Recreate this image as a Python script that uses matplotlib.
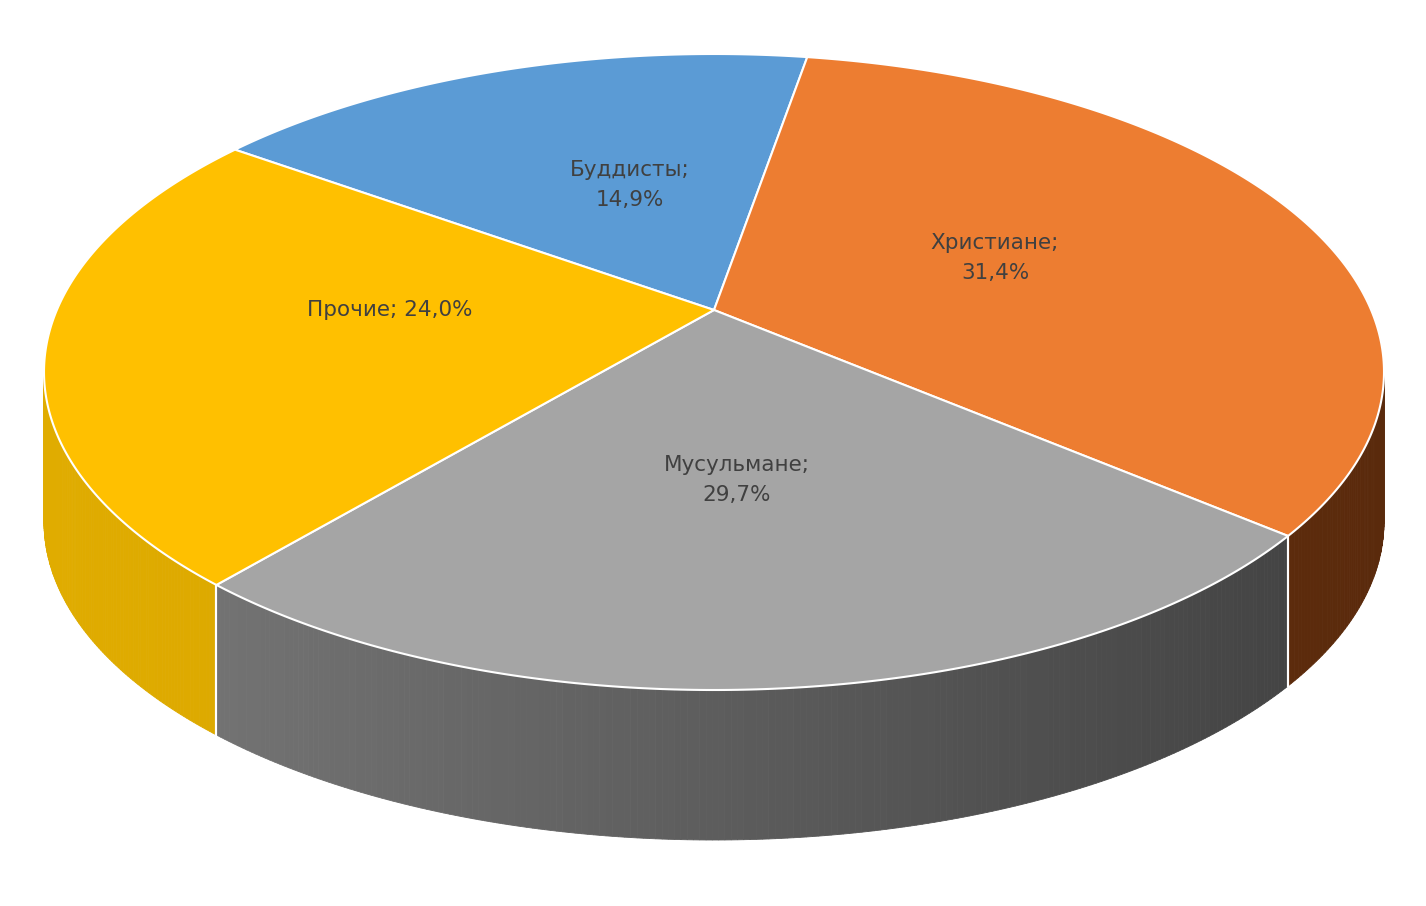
import numpy as np
import matplotlib.pyplot as plt
from matplotlib.patches import Polygon
from matplotlib.colors import to_rgb

labels = ['Буддисты', 'Христиане', 'Мусульмане', 'Прочие']
shares = [14.9, 31.4, 29.7, 24.0]
top_colors = ['#5b9bd5', '#ed7d31', '#a5a5a5', '#ffc000']
side_dark = ['#2f5f8f', '#5a2a0c', '#404040', '#c99a00']
side_light = ['#4a7fb5', '#7a3a12', '#7a7a7a', '#e0ac00']
label_text = ['Буддисты;\n14,9%', 'Христиане;\n31,4%', 'Мусульмане;\n29,7%', 'Прочие; 24,0%']
label_pos = [(630, 185), (995, 258), (737, 480), (390, 310)]

cx, cy, rx, ry, depth = 714, 372, 670, 318, 150
apex = (714, 310)

fig = plt.figure(figsize=(14.26, 9.06), dpi=100)
ax = fig.add_axes([0, 0, 1, 1])
ax.set_xlim(0, 1426)
ax.set_ylim(906, 0)
ax.axis('off')

def pt(t, dy=0):
    r = np.radians(t)
    return cx + rx * np.cos(r), cy - ry * np.sin(r) + dy

# slice angle ranges (clockwise on screen); Christians begin near the top at 82 deg
start = 82.0 + shares[0] * 3.6
ranges = []
a = start
for s in shares:
    b = a - s * 3.6
    ranges.append((a, b))
    a = b

# side walls (front half)
for i, (a0, a1) in enumerate(ranges):
    ts = np.linspace(a0, a1, 200)
    for j in range(len(ts) - 1):
        tm = (ts[j] + ts[j + 1]) / 2
        if np.sin(np.radians(tm)) > 0.0:
            continue
        x0, y0 = pt(ts[j]); x1, y1 = pt(ts[j + 1])
        f = (x0 - 45) / (1385 - 45)
        c = np.array(to_rgb(side_light[i])) * (1 - f) + np.array(to_rgb(side_dark[i])) * f
        ax.add_patch(Polygon([(x0, y0), (x1, y1), (x1, y1 + depth), (x0, y0 + depth)],
                             closed=True, facecolor=c, edgecolor=c, lw=0.6))
    for t in (a0, a1):
        if np.sin(np.radians(t)) < 0:
            x, y = pt(t)
            ax.plot([x, x], [y, y + depth], color='white', lw=1.5)

# top faces
for i, (a0, a1) in enumerate(ranges):
    ts = np.linspace(a0, a1, 200)
    pts = [apex] + [pt(t) for t in ts]
    ax.add_patch(Polygon(pts, closed=True, facecolor=top_colors[i],
                         edgecolor='white', lw=1.5, joinstyle='round'))

for txt, (x, y) in zip(label_text, label_pos):
    ax.text(x, y, txt, ha='center', va='center', fontsize=15.5, color='#404040',
            family='DejaVu Sans', linespacing=1.6)

fig.savefig('out.png', dpi=100, facecolor='white')
